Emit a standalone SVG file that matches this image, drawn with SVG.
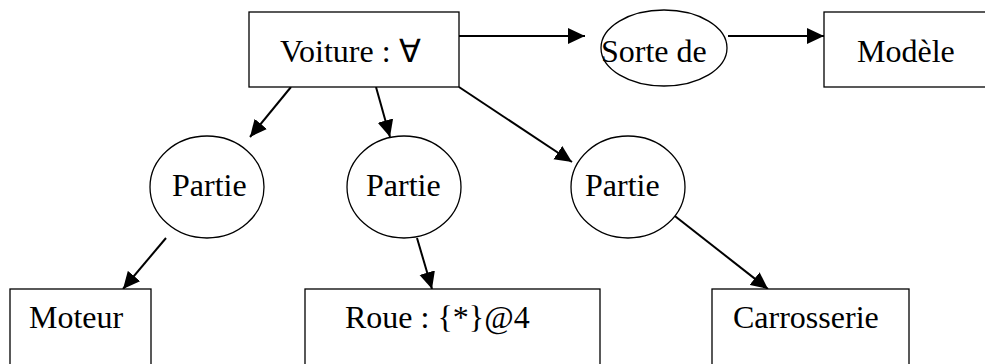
<svg xmlns="http://www.w3.org/2000/svg" width="985" height="364" viewBox="0 0 985 364">
<defs>
<marker id="arr" viewBox="0 0 10 10" refX="10" refY="5" markerWidth="17" markerHeight="17" markerUnits="userSpaceOnUse" orient="auto">
<path d="M0,0.3 L10,5 L0,9.7 z" fill="#000"/>
</marker>
</defs>
<style>
.box{fill:#fff;stroke:#000;stroke-width:1.3}
.ell{fill:#fff;stroke:#000;stroke-width:1.3}
.lbl{font-family:"Liberation Serif","Times New Roman",serif;font-size:32px;fill:#000}
.con{stroke:#000;stroke-width:2;fill:none;marker-end:url(#arr)}
</style>
<rect width="985" height="364" fill="#fff"/>
<g id="connectors">
<line class="con" x1="459" y1="36" x2="585" y2="36"/>
<line class="con" x1="728" y1="36" x2="824" y2="36"/>
<line class="con" x1="291" y1="87" x2="250" y2="137"/>
<line class="con" x1="376" y1="87" x2="390" y2="137"/>
<line class="con" x1="459" y1="87" x2="572" y2="162"/>
<line class="con" x1="166" y1="238" x2="123" y2="289"/>
<line class="con" x1="417" y1="238" x2="432" y2="289"/>
<line class="con" x1="671" y1="213" x2="768" y2="289"/>
</g>
<g id="voiture"><rect class="box" x="249" y="12" width="210" height="75"/><text class="lbl" x="280" y="62">Voiture : ∀</text></g>
<g id="sorte"><ellipse class="ell" cx="664" cy="48" rx="63" ry="38"/><text class="lbl" x="601" y="62">Sorte de</text></g>
<g id="modele"><rect class="box" x="824" y="12" width="170" height="75"/><text class="lbl" x="857" y="62">Modèle</text></g>
<g id="partie1"><ellipse class="ell" cx="207" cy="187" rx="57" ry="51"/><text class="lbl" x="172" y="196">Partie</text></g>
<g id="partie2"><ellipse class="ell" cx="404" cy="187" rx="57" ry="51"/><text class="lbl" x="366" y="196">Partie</text></g>
<g id="partie3"><ellipse class="ell" cx="628" cy="187" rx="57" ry="51"/><text class="lbl" x="585" y="196">Partie</text></g>
<g id="moteur"><rect class="box" x="10" y="289" width="141" height="90"/><text class="lbl" x="29" y="328">Moteur</text></g>
<g id="roue"><rect class="box" x="305" y="289" width="295" height="90"/><text class="lbl" x="345" y="328">Roue : {*}@4</text></g>
<g id="carrosserie"><rect class="box" x="712" y="289" width="197" height="90"/><text class="lbl" x="733" y="328">Carrosserie</text></g>
</svg>
